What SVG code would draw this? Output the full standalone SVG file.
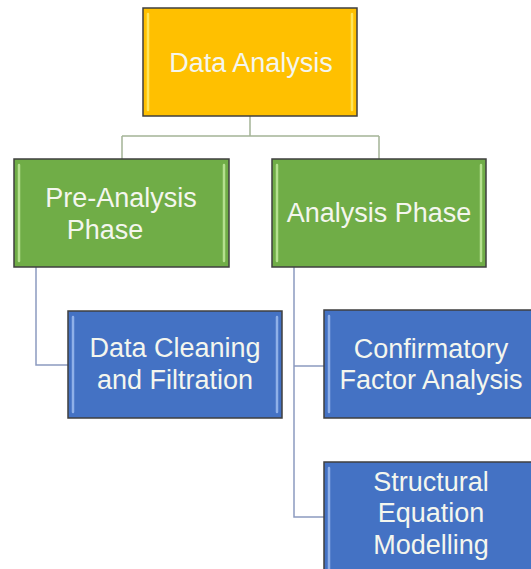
<svg xmlns="http://www.w3.org/2000/svg" width="531" height="569" viewBox="0 0 531 569">
  <style>
    .box { stroke: #3f3f3f; stroke-width: 1.5; }
    .gold { fill: #FFC000; }
    .green { fill: #70AD47; }
    .blue { fill: #4472C4; }
    .hl { stroke-width: 2.5; stroke-linecap: round; fill: none; }
    .hl-gold { stroke: #FFE55A; }
    .hl-green { stroke: #B5E08F; }
    .hl-blue { stroke: #8FB0E8; }
    .label { font-family: "Liberation Sans", Arial, sans-serif; font-size: 27px; fill: #F4F6EE; text-anchor: middle; }
    .link-top { stroke: #A4B497; stroke-width: 1.5; fill: none; }
    .link-low { stroke: #8C9BC0; stroke-width: 1.5; fill: none; }
  </style>

  <!-- connectors -->
  <g id="connectors">
    <path class="link-top" d="M250 116 V136 M122 136 H379 M122 136 V159 M379 136 V159"/>
    <path class="link-low" d="M36 267 V365 H68"/>
    <path class="link-low" d="M294 267 V517 H324 M294 366 H324"/>
  </g>

  <!-- root -->
  <g id="data-analysis">
    <rect class="box gold" x="143" y="8" width="214" height="108"/>
    <path class="hl hl-gold" d="M148 14 V110 M352 14 V110"/>
    <text class="label" x="251" y="72">Data Analysis</text>
  </g>

  <!-- phases -->
  <g id="pre-analysis-phase">
    <rect class="box green" x="14" y="159" width="215" height="108"/>
    <path class="hl hl-green" d="M19 165 V261 M224 165 V261"/>
    <text class="label" x="121" y="207">Pre-Analysis</text>
    <text class="label" x="105" y="239">Phase</text>
  </g>

  <g id="analysis-phase">
    <rect class="box green" x="272" y="159" width="214" height="108"/>
    <path class="hl hl-green" d="M277 165 V261 M481 165 V261"/>
    <text class="label" x="379" y="222">Analysis Phase</text>
  </g>

  <!-- tasks -->
  <g id="data-cleaning">
    <rect class="box blue" x="68" y="311" width="214" height="107"/>
    <path class="hl hl-blue" d="M73 317 V412 M277 317 V412"/>
    <text class="label" x="175" y="357">Data Cleaning</text>
    <text class="label" x="175" y="389">and Filtration</text>
  </g>

  <g id="cfa">
    <rect class="box blue" x="324" y="310" width="214" height="108"/>
    <path class="hl hl-blue" d="M329 316 V412"/>
    <text class="label" x="431" y="358">Confirmatory</text>
    <text class="label" x="431" y="389">Factor Analysis</text>
  </g>

  <g id="sem">
    <rect class="box blue" x="324" y="462" width="214" height="112"/>
    <path class="hl hl-blue" d="M329 468 V569"/>
    <text class="label" x="431" y="491">Structural</text>
    <text class="label" x="431" y="522">Equation</text>
    <text class="label" x="431" y="554">Modelling</text>
  </g>
</svg>
